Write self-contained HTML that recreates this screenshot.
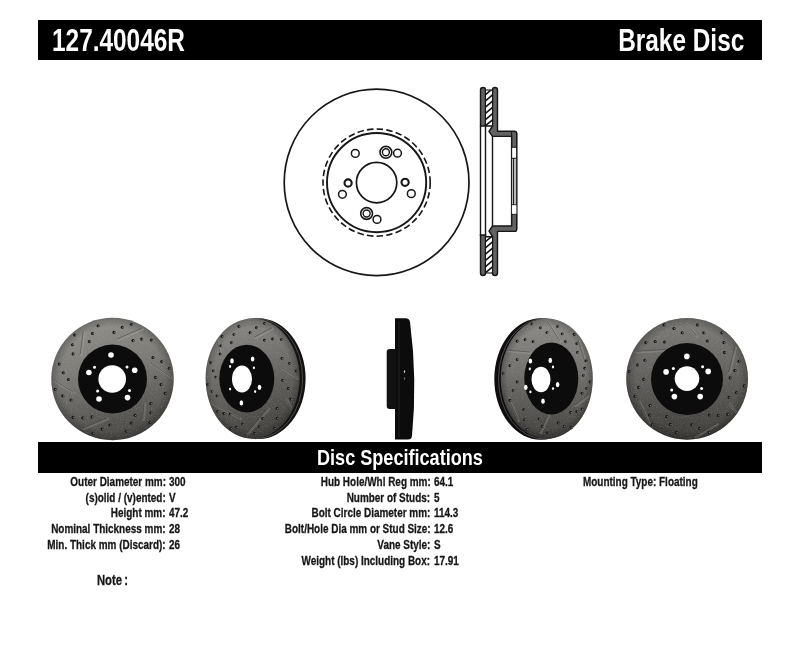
<!DOCTYPE html>
<html><head><meta charset="utf-8">
<style>
html,body{margin:0;padding:0;background:#fff;width:800px;height:655px;overflow:hidden;position:relative;font-family:"Liberation Sans",sans-serif;font-weight:bold;}
.bar{position:absolute;background:#000;}
.t{position:absolute;white-space:nowrap;line-height:1;}
.w{color:#fff;}
.hl{transform-origin:0 0;}
.hr{transform-origin:100% 0;}
.lab{position:absolute;white-space:nowrap;font-size:13px;line-height:13px;color:#161616;transform:scaleX(0.765);-webkit-text-stroke:0.3px #161616;}
.lab.r{transform-origin:100% 0;text-align:right;}
.lab.l{transform-origin:0 0;}
svg{position:absolute;left:0;top:0;}
</style></head><body>
<div class="bar" style="left:38px;top:20px;width:724px;height:40px;"></div>
<div class="t w hl" style="left:51.8px;top:24.8px;font-size:31px;transform:scaleX(0.787);">127.40046R</div>
<div class="t w hr" style="right:55.5px;top:24.8px;font-size:31px;transform:scaleX(0.787);">Brake Disc</div>

<div class="bar" style="left:38px;top:442px;width:724px;height:31px;"></div>
<div class="t w" style="left:317px;top:447px;font-size:22px;transform:scaleX(0.822);transform-origin:0 0;">Disc Specifications</div>

<!-- specs col1 -->
<div class="lab r" style="right:634.5px;top:475px;">Outer Diameter mm:</div>
<div class="lab r" style="right:634.5px;top:491px;">(s)olid / (v)ented:</div>
<div class="lab r" style="right:634.5px;top:506px;">Height mm:</div>
<div class="lab r" style="right:634.5px;top:522px;">Nominal Thickness mm:</div>
<div class="lab r" style="right:634.5px;top:538px;">Min. Thick mm (Discard):</div>
<div class="lab l" style="left:169px;top:475px;">300</div>
<div class="lab l" style="left:169px;top:491px;">V</div>
<div class="lab l" style="left:169px;top:506px;">47.2</div>
<div class="lab l" style="left:169px;top:522px;">28</div>
<div class="lab l" style="left:169px;top:538px;">26</div>
<!-- col2 -->
<div class="lab r" style="right:369.7px;top:475px;">Hub Hole/Whl Reg mm:</div>
<div class="lab r" style="right:369.7px;top:491px;">Number of Studs:</div>
<div class="lab r" style="right:369.7px;top:506px;">Bolt Circle Diameter mm:</div>
<div class="lab r" style="right:369.7px;top:522px;">Bolt/Hole Dia mm or Stud Size:</div>
<div class="lab r" style="right:369.7px;top:538px;">Vane Style:</div>
<div class="lab r" style="right:369.7px;top:554px;">Weight (lbs) Including Box:</div>
<div class="lab l" style="left:434.3px;top:475px;">64.1</div>
<div class="lab l" style="left:434.3px;top:491px;">5</div>
<div class="lab l" style="left:434.3px;top:506px;">114.3</div>
<div class="lab l" style="left:434.3px;top:522px;">12.6</div>
<div class="lab l" style="left:434.3px;top:538px;">S</div>
<div class="lab l" style="left:434.3px;top:554px;">17.91</div>
<!-- col3 -->
<div class="lab l" style="left:582.5px;top:475px;">Mounting Type: Floating</div>
<div class="lab l" style="left:96.5px;top:571.5px;font-size:15px;line-height:15px;transform:scaleX(0.75);">Note<span style="margin-left:3px">:</span></div>

<svg width="800" height="655" viewBox="0 0 800 655">
<defs>
<linearGradient id="g1" x1="0" y1="0" x2="0.25" y2="1">
 <stop offset="0" stop-color="#96958f"/><stop offset="0.5" stop-color="#7b7a76"/><stop offset="1" stop-color="#4e4d49"/></linearGradient>
<linearGradient id="g2" x1="0" y1="0" x2="0.25" y2="1">
 <stop offset="0" stop-color="#8f8e8a"/><stop offset="0.45" stop-color="#73726e"/><stop offset="1" stop-color="#464542"/></linearGradient>
<linearGradient id="g4" x1="0" y1="0" x2="0" y2="1">
 <stop offset="0" stop-color="#8d8c88"/><stop offset="0.45" stop-color="#72716d"/><stop offset="1" stop-color="#42413e"/></linearGradient>
<linearGradient id="g5" x1="0" y1="0" x2="0" y2="1">
 <stop offset="0" stop-color="#7e7d79"/><stop offset="0.45" stop-color="#64635f"/><stop offset="1" stop-color="#3d3c39"/></linearGradient>
<radialGradient id="rim" cx="0.5" cy="0.5" r="0.5">
 <stop offset="0.85" stop-color="#000" stop-opacity="0"/><stop offset="1" stop-color="#000" stop-opacity="0.25"/></radialGradient>
<clipPath id="c1"><circle cx="112.5" cy="379" r="60"/></clipPath>
<clipPath id="c5"><circle cx="687.1" cy="378.8" r="59.8"/></clipPath>
<clipPath id="c2"><ellipse cx="252.6" cy="378.5" rx="46" ry="59"/></clipPath>
<clipPath id="c4"><ellipse cx="546.8" cy="378.5" rx="45" ry="59"/></clipPath>
<filter id="noise" x="0" y="0" width="100%" height="100%"><feTurbulence type="fractalNoise" baseFrequency="0.8" numOctaves="2" seed="3" result="n"/><feColorMatrix in="n" type="matrix" values="0 0 0 0 0.5  0 0 0 0 0.5  0 0 0 0 0.5  1.6 0 0 0 -0.8"/></filter>
</defs>
<circle cx="112.5" cy="379" r="61.2" fill="url(#g1)"/>
<circle cx="112.5" cy="379" r="61.2" fill="url(#rim)"/>
<g clip-path="url(#c1)" opacity="0.35"><rect x="50" y="317" width="125" height="125" filter="url(#noise)"/></g>
<g clip-path="url(#c1)"><line x1="84.2" y1="331.8" x2="81.1" y2="355.3" stroke="#c0c0c0" stroke-width="2.6" opacity="0.22" stroke-linecap="round"/><line x1="83.3" y1="330.9" x2="80.2" y2="354.4" stroke="#2a2a2a" stroke-width="0.9" opacity="0.5"/><line x1="118.1" y1="339.9" x2="142.6" y2="329.2" stroke="#c0c0c0" stroke-width="2.6" opacity="0.22" stroke-linecap="round"/><line x1="117.2" y1="339" x2="141.7" y2="328.3" stroke="#2a2a2a" stroke-width="0.9" opacity="0.5"/><line x1="151.8" y1="364" x2="172.3" y2="378.3" stroke="#c0c0c0" stroke-width="2.6" opacity="0.22" stroke-linecap="round"/><line x1="150.9" y1="363.1" x2="171.4" y2="377.4" stroke="#2a2a2a" stroke-width="0.9" opacity="0.5"/><line x1="55" y1="380.9" x2="74.5" y2="393.2" stroke="#c0c0c0" stroke-width="2.6" opacity="0.22" stroke-linecap="round"/><line x1="54.1" y1="380" x2="73.6" y2="392.3" stroke="#2a2a2a" stroke-width="0.9" opacity="0.5"/><line x1="83.7" y1="429" x2="108.2" y2="418.8" stroke="#c0c0c0" stroke-width="2.6" opacity="0.22" stroke-linecap="round"/><line x1="82.8" y1="428.1" x2="107.3" y2="417.9" stroke="#2a2a2a" stroke-width="0.9" opacity="0.5"/><line x1="144.7" y1="404.5" x2="143.6" y2="419.8" stroke="#c0c0c0" stroke-width="2.6" opacity="0.22" stroke-linecap="round"/><line x1="143.8" y1="403.6" x2="142.7" y2="418.9" stroke="#2a2a2a" stroke-width="0.9" opacity="0.5"/></g>
<circle cx="98.1" cy="325.8" r="1.55" fill="#161616"/><ellipse cx="98.7" cy="325.9" rx="0.7" ry="0.7" fill="#e8e8e8" opacity="0.5"/><circle cx="92.5" cy="333.4" r="1.55" fill="#161616"/><ellipse cx="93.1" cy="333.5" rx="0.7" ry="0.7" fill="#e8e8e8" opacity="0.5"/><circle cx="89.4" cy="341.6" r="1.55" fill="#161616"/><ellipse cx="90" cy="341.7" rx="0.7" ry="0.7" fill="#e8e8e8" opacity="0.5"/><circle cx="74.6" cy="335" r="1.55" fill="#161616"/><ellipse cx="75.2" cy="335.1" rx="0.7" ry="0.7" fill="#e8e8e8" opacity="0.5"/><circle cx="72.5" cy="344.7" r="1.55" fill="#161616"/><ellipse cx="73.1" cy="344.8" rx="0.7" ry="0.7" fill="#e8e8e8" opacity="0.5"/><circle cx="73.1" cy="353.9" r="1.55" fill="#161616"/><ellipse cx="73.7" cy="354" rx="0.7" ry="0.7" fill="#e8e8e8" opacity="0.5"/><circle cx="59.3" cy="364.1" r="1.55" fill="#161616"/><ellipse cx="59.9" cy="364.2" rx="0.7" ry="0.7" fill="#e8e8e8" opacity="0.5"/><circle cx="63.3" cy="372.8" r="1.55" fill="#161616"/><ellipse cx="63.9" cy="372.9" rx="0.7" ry="0.7" fill="#e8e8e8" opacity="0.5"/><circle cx="68.5" cy="379.5" r="1.55" fill="#161616"/><ellipse cx="69.1" cy="379.6" rx="0.7" ry="0.7" fill="#e8e8e8" opacity="0.5"/><circle cx="114" cy="332.4" r="1.55" fill="#161616"/><ellipse cx="114.6" cy="332.5" rx="0.7" ry="0.7" fill="#e8e8e8" opacity="0.5"/><circle cx="131.5" cy="324.2" r="1.55" fill="#161616"/><ellipse cx="132.1" cy="324.3" rx="0.7" ry="0.7" fill="#e8e8e8" opacity="0.5"/><circle cx="122.3" cy="327.3" r="1.55" fill="#161616"/><ellipse cx="122.9" cy="327.4" rx="0.7" ry="0.7" fill="#e8e8e8" opacity="0.5"/><circle cx="133" cy="340.6" r="1.55" fill="#161616"/><ellipse cx="133.6" cy="340.7" rx="0.7" ry="0.7" fill="#e8e8e8" opacity="0.5"/><circle cx="141.7" cy="339.1" r="1.55" fill="#161616"/><ellipse cx="142.3" cy="339.2" rx="0.7" ry="0.7" fill="#e8e8e8" opacity="0.5"/><circle cx="151.4" cy="340.1" r="1.55" fill="#161616"/><ellipse cx="152" cy="340.2" rx="0.7" ry="0.7" fill="#e8e8e8" opacity="0.5"/><circle cx="153" cy="357.5" r="1.55" fill="#161616"/><ellipse cx="153.6" cy="357.6" rx="0.7" ry="0.7" fill="#e8e8e8" opacity="0.5"/><circle cx="161.7" cy="361.6" r="1.55" fill="#161616"/><ellipse cx="162.3" cy="361.7" rx="0.7" ry="0.7" fill="#e8e8e8" opacity="0.5"/><circle cx="169.3" cy="368.2" r="1.55" fill="#161616"/><ellipse cx="169.9" cy="368.3" rx="0.7" ry="0.7" fill="#e8e8e8" opacity="0.5"/><circle cx="155.5" cy="377.4" r="1.55" fill="#161616"/><ellipse cx="156.1" cy="377.5" rx="0.7" ry="0.7" fill="#e8e8e8" opacity="0.5"/><circle cx="55.2" cy="389.3" r="1.55" fill="#161616"/><ellipse cx="55.8" cy="389.4" rx="0.7" ry="0.7" fill="#e8e8e8" opacity="0.5"/><circle cx="62.8" cy="395.9" r="1.55" fill="#161616"/><ellipse cx="63.4" cy="396" rx="0.7" ry="0.7" fill="#e8e8e8" opacity="0.5"/><circle cx="71" cy="400" r="1.55" fill="#161616"/><ellipse cx="71.6" cy="400.1" rx="0.7" ry="0.7" fill="#e8e8e8" opacity="0.5"/><circle cx="73.1" cy="417.4" r="1.55" fill="#161616"/><ellipse cx="73.7" cy="417.5" rx="0.7" ry="0.7" fill="#e8e8e8" opacity="0.5"/><circle cx="82.8" cy="417.9" r="1.55" fill="#161616"/><ellipse cx="83.4" cy="418" rx="0.7" ry="0.7" fill="#e8e8e8" opacity="0.5"/><circle cx="92" cy="416.9" r="1.55" fill="#161616"/><ellipse cx="92.6" cy="417" rx="0.7" ry="0.7" fill="#e8e8e8" opacity="0.5"/><circle cx="93" cy="433.2" r="1.55" fill="#161616"/><ellipse cx="93.6" cy="433.3" rx="0.7" ry="0.7" fill="#e8e8e8" opacity="0.5"/><circle cx="102.2" cy="429.1" r="1.55" fill="#161616"/><ellipse cx="102.8" cy="429.2" rx="0.7" ry="0.7" fill="#e8e8e8" opacity="0.5"/><circle cx="109.9" cy="425" r="1.55" fill="#161616"/><ellipse cx="110.5" cy="425.1" rx="0.7" ry="0.7" fill="#e8e8e8" opacity="0.5"/><circle cx="161.1" cy="384.6" r="1.55" fill="#161616"/><ellipse cx="161.7" cy="384.7" rx="0.7" ry="0.7" fill="#e8e8e8" opacity="0.5"/><circle cx="165.2" cy="393.3" r="1.55" fill="#161616"/><ellipse cx="165.8" cy="393.4" rx="0.7" ry="0.7" fill="#e8e8e8" opacity="0.5"/><circle cx="150.9" cy="403.6" r="1.55" fill="#161616"/><ellipse cx="151.5" cy="403.7" rx="0.7" ry="0.7" fill="#e8e8e8" opacity="0.5"/><circle cx="150.9" cy="412.8" r="1.55" fill="#161616"/><ellipse cx="151.5" cy="412.9" rx="0.7" ry="0.7" fill="#e8e8e8" opacity="0.5"/><circle cx="149.9" cy="422.5" r="1.55" fill="#161616"/><ellipse cx="150.5" cy="422.6" rx="0.7" ry="0.7" fill="#e8e8e8" opacity="0.5"/><circle cx="135.1" cy="415.3" r="1.55" fill="#161616"/><ellipse cx="135.7" cy="415.4" rx="0.7" ry="0.7" fill="#e8e8e8" opacity="0.5"/><circle cx="131.5" cy="423" r="1.55" fill="#161616"/><ellipse cx="132.1" cy="423.1" rx="0.7" ry="0.7" fill="#e8e8e8" opacity="0.5"/><circle cx="126.4" cy="431.2" r="1.55" fill="#161616"/><ellipse cx="127" cy="431.3" rx="0.7" ry="0.7" fill="#e8e8e8" opacity="0.5"/>
<circle cx="112.5" cy="379" r="34.5" fill="#0c0c0c"/>
<circle cx="112.2" cy="379" r="13.8" fill="#fff"/>
<circle cx="111" cy="355" r="2.8" fill="#fff"/><circle cx="134.7" cy="370.2" r="2.8" fill="#fff"/><circle cx="127.5" cy="397.6" r="2.8" fill="#fff"/><circle cx="99" cy="399" r="2.8" fill="#fff"/><circle cx="88.9" cy="372.5" r="2.8" fill="#fff"/>
<circle cx="94.5" cy="367.3" r="1.5" fill="#fff"/><circle cx="127" cy="366.9" r="1.5" fill="#fff"/><circle cx="129.5" cy="390.4" r="1.5" fill="#fff"/><circle cx="97.6" cy="391" r="1.5" fill="#fff"/>
<circle cx="687.1" cy="378.8" r="60.9" fill="url(#g5)"/>
<circle cx="687.1" cy="378.8" r="60.9" fill="url(#rim)"/>
<g clip-path="url(#c5)" opacity="0.35"><rect x="625" y="317" width="125" height="125" filter="url(#noise)"/></g>
<g clip-path="url(#c5)"><line x1="636.6" y1="352.3" x2="666.6" y2="350.3" stroke="#c0c0c0" stroke-width="2.6" opacity="0.22" stroke-linecap="round"/><line x1="635.7" y1="351.4" x2="665.7" y2="349.4" stroke="#2a2a2a" stroke-width="0.9" opacity="0.5"/><line x1="686.9" y1="324.3" x2="697.4" y2="336.7" stroke="#c0c0c0" stroke-width="2.6" opacity="0.22" stroke-linecap="round"/><line x1="686" y1="323.4" x2="696.5" y2="335.8" stroke="#2a2a2a" stroke-width="0.9" opacity="0.5"/><line x1="735.8" y1="348.1" x2="729.6" y2="373.1" stroke="#c0c0c0" stroke-width="2.6" opacity="0.22" stroke-linecap="round"/><line x1="734.9" y1="347.2" x2="728.7" y2="372.2" stroke="#2a2a2a" stroke-width="0.9" opacity="0.5"/><line x1="639.6" y1="401.8" x2="651.6" y2="427.3" stroke="#c0c0c0" stroke-width="2.6" opacity="0.22" stroke-linecap="round"/><line x1="638.7" y1="400.9" x2="650.7" y2="426.4" stroke="#2a2a2a" stroke-width="0.9" opacity="0.5"/><line x1="695.6" y1="437.3" x2="717.6" y2="424.3" stroke="#c0c0c0" stroke-width="2.6" opacity="0.22" stroke-linecap="round"/><line x1="694.7" y1="436.4" x2="716.7" y2="423.4" stroke="#2a2a2a" stroke-width="0.9" opacity="0.5"/><line x1="729.6" y1="404.3" x2="742.6" y2="419.3" stroke="#c0c0c0" stroke-width="2.6" opacity="0.22" stroke-linecap="round"/><line x1="728.7" y1="403.4" x2="741.7" y2="418.4" stroke="#2a2a2a" stroke-width="0.9" opacity="0.5"/></g>
<circle cx="664.1" cy="324.9" r="1.55" fill="#161616"/><ellipse cx="664.7" cy="325" rx="0.7" ry="0.7" fill="#e8e8e8" opacity="0.5"/><circle cx="673.9" cy="328.5" r="1.55" fill="#161616"/><ellipse cx="674.5" cy="328.6" rx="0.7" ry="0.7" fill="#e8e8e8" opacity="0.5"/><circle cx="682.2" cy="332.7" r="1.55" fill="#161616"/><ellipse cx="682.8" cy="332.8" rx="0.7" ry="0.7" fill="#e8e8e8" opacity="0.5"/><circle cx="645.9" cy="342.6" r="1.55" fill="#161616"/><ellipse cx="646.5" cy="342.7" rx="0.7" ry="0.7" fill="#e8e8e8" opacity="0.5"/><circle cx="655.2" cy="341.5" r="1.55" fill="#161616"/><ellipse cx="655.8" cy="341.6" rx="0.7" ry="0.7" fill="#e8e8e8" opacity="0.5"/><circle cx="664.6" cy="342" r="1.55" fill="#161616"/><ellipse cx="665.2" cy="342.1" rx="0.7" ry="0.7" fill="#e8e8e8" opacity="0.5"/><circle cx="644.8" cy="360.2" r="1.55" fill="#161616"/><ellipse cx="645.4" cy="360.3" rx="0.7" ry="0.7" fill="#e8e8e8" opacity="0.5"/><circle cx="637.6" cy="364.9" r="1.55" fill="#161616"/><ellipse cx="638.2" cy="365" rx="0.7" ry="0.7" fill="#e8e8e8" opacity="0.5"/><circle cx="629.3" cy="371.6" r="1.55" fill="#161616"/><ellipse cx="629.9" cy="371.7" rx="0.7" ry="0.7" fill="#e8e8e8" opacity="0.5"/><circle cx="643.8" cy="379.4" r="1.55" fill="#161616"/><ellipse cx="644.4" cy="379.5" rx="0.7" ry="0.7" fill="#e8e8e8" opacity="0.5"/><circle cx="697.5" cy="324.9" r="1.55" fill="#161616"/><ellipse cx="698.1" cy="325" rx="0.7" ry="0.7" fill="#e8e8e8" opacity="0.5"/><circle cx="703.7" cy="332.7" r="1.55" fill="#161616"/><ellipse cx="704.3" cy="332.8" rx="0.7" ry="0.7" fill="#e8e8e8" opacity="0.5"/><circle cx="707.4" cy="341" r="1.55" fill="#161616"/><ellipse cx="708" cy="341.1" rx="0.7" ry="0.7" fill="#e8e8e8" opacity="0.5"/><circle cx="721.9" cy="332.7" r="1.55" fill="#161616"/><ellipse cx="722.5" cy="332.8" rx="0.7" ry="0.7" fill="#e8e8e8" opacity="0.5"/><circle cx="724" cy="342.6" r="1.55" fill="#161616"/><ellipse cx="724.6" cy="342.7" rx="0.7" ry="0.7" fill="#e8e8e8" opacity="0.5"/><circle cx="724.5" cy="352.4" r="1.55" fill="#161616"/><ellipse cx="725.1" cy="352.5" rx="0.7" ry="0.7" fill="#e8e8e8" opacity="0.5"/><circle cx="739" cy="361.2" r="1.55" fill="#161616"/><ellipse cx="739.6" cy="361.3" rx="0.7" ry="0.7" fill="#e8e8e8" opacity="0.5"/><circle cx="734.9" cy="370.6" r="1.55" fill="#161616"/><ellipse cx="735.5" cy="370.7" rx="0.7" ry="0.7" fill="#e8e8e8" opacity="0.5"/><circle cx="730.2" cy="377.9" r="1.55" fill="#161616"/><ellipse cx="730.8" cy="378" rx="0.7" ry="0.7" fill="#e8e8e8" opacity="0.5"/><circle cx="638.6" cy="387.4" r="1.55" fill="#161616"/><ellipse cx="639.2" cy="387.5" rx="0.7" ry="0.7" fill="#e8e8e8" opacity="0.5"/><circle cx="635" cy="396.2" r="1.55" fill="#161616"/><ellipse cx="635.6" cy="396.3" rx="0.7" ry="0.7" fill="#e8e8e8" opacity="0.5"/><circle cx="650" cy="405.6" r="1.55" fill="#161616"/><ellipse cx="650.6" cy="405.7" rx="0.7" ry="0.7" fill="#e8e8e8" opacity="0.5"/><circle cx="649.5" cy="415" r="1.55" fill="#161616"/><ellipse cx="650.1" cy="415.1" rx="0.7" ry="0.7" fill="#e8e8e8" opacity="0.5"/><circle cx="652.1" cy="424.8" r="1.55" fill="#161616"/><ellipse cx="652.7" cy="424.9" rx="0.7" ry="0.7" fill="#e8e8e8" opacity="0.5"/><circle cx="666.7" cy="416.5" r="1.55" fill="#161616"/><ellipse cx="667.3" cy="416.6" rx="0.7" ry="0.7" fill="#e8e8e8" opacity="0.5"/><circle cx="670.3" cy="424.3" r="1.55" fill="#161616"/><ellipse cx="670.9" cy="424.4" rx="0.7" ry="0.7" fill="#e8e8e8" opacity="0.5"/><circle cx="676.5" cy="432.6" r="1.55" fill="#161616"/><ellipse cx="677.1" cy="432.7" rx="0.7" ry="0.7" fill="#e8e8e8" opacity="0.5"/><circle cx="744.2" cy="385.9" r="1.55" fill="#161616"/><ellipse cx="744.8" cy="386" rx="0.7" ry="0.7" fill="#e8e8e8" opacity="0.5"/><circle cx="736.4" cy="392.6" r="1.55" fill="#161616"/><ellipse cx="737" cy="392.7" rx="0.7" ry="0.7" fill="#e8e8e8" opacity="0.5"/><circle cx="729.2" cy="397.3" r="1.55" fill="#161616"/><ellipse cx="729.8" cy="397.4" rx="0.7" ry="0.7" fill="#e8e8e8" opacity="0.5"/><circle cx="709.4" cy="415" r="1.55" fill="#161616"/><ellipse cx="710" cy="415.1" rx="0.7" ry="0.7" fill="#e8e8e8" opacity="0.5"/><circle cx="718.3" cy="415.5" r="1.55" fill="#161616"/><ellipse cx="718.9" cy="415.6" rx="0.7" ry="0.7" fill="#e8e8e8" opacity="0.5"/><circle cx="727.6" cy="414.4" r="1.55" fill="#161616"/><ellipse cx="728.2" cy="414.5" rx="0.7" ry="0.7" fill="#e8e8e8" opacity="0.5"/><circle cx="691.8" cy="424.8" r="1.55" fill="#161616"/><ellipse cx="692.4" cy="424.9" rx="0.7" ry="0.7" fill="#e8e8e8" opacity="0.5"/><circle cx="699.6" cy="428.4" r="1.55" fill="#161616"/><ellipse cx="700.2" cy="428.5" rx="0.7" ry="0.7" fill="#e8e8e8" opacity="0.5"/><circle cx="708.9" cy="432.1" r="1.55" fill="#161616"/><ellipse cx="709.5" cy="432.2" rx="0.7" ry="0.7" fill="#e8e8e8" opacity="0.5"/>
<circle cx="687.0" cy="379.0" r="36" fill="#0c0c0c"/>
<circle cx="687.0" cy="378.59999999999997" r="12.3" fill="#fff"/>
<circle cx="686.8" cy="356.4" r="2.8" fill="#fff"/><circle cx="708.2" cy="371.4" r="2.8" fill="#fff"/><circle cx="700.2" cy="396.6" r="2.8" fill="#fff"/><circle cx="674.4" cy="396.6" r="2.8" fill="#fff"/><circle cx="666.1" cy="371.9" r="2.8" fill="#fff"/>
<circle cx="673.4" cy="368.4" r="1.5" fill="#fff"/><circle cx="702.6" cy="366.7" r="1.5" fill="#fff"/><circle cx="701.6" cy="388.4" r="1.5" fill="#fff"/><circle cx="671.7" cy="390" r="1.5" fill="#fff"/>
<ellipse cx="258.4" cy="378.6" rx="47.2" ry="60.4" fill="#111"/>
<ellipse cx="255.6" cy="378.5" rx="47" ry="60.2" fill="none" stroke="#5a5a5a" stroke-width="0.8"/>
<ellipse cx="252.6" cy="378.5" rx="47" ry="60" fill="url(#g2)"/>
<ellipse cx="252.6" cy="378.5" rx="47" ry="60" fill="url(#rim)"/>
<g clip-path="url(#c2)" opacity="0.35"><rect x="204" y="317" width="95" height="125" filter="url(#noise)"/></g>
<g clip-path="url(#c2)"><line x1="255.4" y1="338" x2="272.9" y2="328.7" stroke="#c0c0c0" stroke-width="2.6" opacity="0.22" stroke-linecap="round"/><line x1="254.5" y1="337.1" x2="272" y2="327.8" stroke="#2a2a2a" stroke-width="0.9" opacity="0.5"/><line x1="282.9" y1="368.7" x2="298.9" y2="378.9" stroke="#c0c0c0" stroke-width="2.6" opacity="0.22" stroke-linecap="round"/><line x1="282" y1="367.8" x2="298" y2="378" stroke="#2a2a2a" stroke-width="0.9" opacity="0.5"/><line x1="214.9" y1="330.9" x2="220.9" y2="352.9" stroke="#c0c0c0" stroke-width="2.6" opacity="0.22" stroke-linecap="round"/><line x1="214" y1="330" x2="220" y2="352" stroke="#2a2a2a" stroke-width="0.9" opacity="0.5"/><line x1="210.9" y1="402.9" x2="240.9" y2="418.9" stroke="#c0c0c0" stroke-width="2.6" opacity="0.22" stroke-linecap="round"/><line x1="210" y1="402" x2="240" y2="418" stroke="#2a2a2a" stroke-width="0.9" opacity="0.5"/><line x1="247.9" y1="433.9" x2="268.9" y2="408.9" stroke="#c0c0c0" stroke-width="2.6" opacity="0.22" stroke-linecap="round"/><line x1="247" y1="433" x2="268" y2="408" stroke="#2a2a2a" stroke-width="0.9" opacity="0.5"/><line x1="285.9" y1="398.9" x2="298.9" y2="420.9" stroke="#c0c0c0" stroke-width="2.6" opacity="0.22" stroke-linecap="round"/><line x1="285" y1="398" x2="298" y2="420" stroke="#2a2a2a" stroke-width="0.9" opacity="0.5"/></g>
<circle cx="238.9" cy="326.5" r="1.45" fill="#161616"/><ellipse cx="239.5" cy="326.6" rx="0.7" ry="0.7" fill="#e8e8e8" opacity="0.5"/><circle cx="256.4" cy="327.8" r="1.45" fill="#161616"/><ellipse cx="257" cy="327.9" rx="0.7" ry="0.7" fill="#e8e8e8" opacity="0.5"/><circle cx="264.5" cy="323.4" r="1.45" fill="#161616"/><ellipse cx="265.1" cy="323.5" rx="0.7" ry="0.7" fill="#e8e8e8" opacity="0.5"/><circle cx="250.1" cy="332.8" r="1.45" fill="#161616"/><ellipse cx="250.7" cy="332.9" rx="0.7" ry="0.7" fill="#e8e8e8" opacity="0.5"/><circle cx="233.9" cy="334.6" r="1.45" fill="#161616"/><ellipse cx="234.5" cy="334.7" rx="0.7" ry="0.7" fill="#e8e8e8" opacity="0.5"/><circle cx="222" cy="336.5" r="1.45" fill="#161616"/><ellipse cx="222.6" cy="336.6" rx="0.7" ry="0.7" fill="#e8e8e8" opacity="0.5"/><circle cx="231.4" cy="342.8" r="1.45" fill="#161616"/><ellipse cx="232" cy="342.9" rx="0.7" ry="0.7" fill="#e8e8e8" opacity="0.5"/><circle cx="220.8" cy="345.9" r="1.45" fill="#161616"/><ellipse cx="221.4" cy="346" rx="0.7" ry="0.7" fill="#e8e8e8" opacity="0.5"/><circle cx="220.1" cy="354" r="1.45" fill="#161616"/><ellipse cx="220.7" cy="354.1" rx="0.7" ry="0.7" fill="#e8e8e8" opacity="0.5"/><circle cx="210.8" cy="362.8" r="1.45" fill="#161616"/><ellipse cx="211.4" cy="362.9" rx="0.7" ry="0.7" fill="#e8e8e8" opacity="0.5"/><circle cx="213.3" cy="370.9" r="1.45" fill="#161616"/><ellipse cx="213.9" cy="371" rx="0.7" ry="0.7" fill="#e8e8e8" opacity="0.5"/><circle cx="215.8" cy="377.1" r="1.45" fill="#161616"/><ellipse cx="216.4" cy="377.2" rx="0.7" ry="0.7" fill="#e8e8e8" opacity="0.5"/><circle cx="264.5" cy="340.3" r="1.45" fill="#161616"/><ellipse cx="265.1" cy="340.4" rx="0.7" ry="0.7" fill="#e8e8e8" opacity="0.5"/><circle cx="272.6" cy="339" r="1.45" fill="#161616"/><ellipse cx="273.2" cy="339.1" rx="0.7" ry="0.7" fill="#e8e8e8" opacity="0.5"/><circle cx="281.4" cy="339.6" r="1.45" fill="#161616"/><ellipse cx="282" cy="339.7" rx="0.7" ry="0.7" fill="#e8e8e8" opacity="0.5"/><circle cx="282" cy="358.4" r="1.45" fill="#161616"/><ellipse cx="282.6" cy="358.5" rx="0.7" ry="0.7" fill="#e8e8e8" opacity="0.5"/><circle cx="289.5" cy="363.4" r="1.45" fill="#161616"/><ellipse cx="290.1" cy="363.5" rx="0.7" ry="0.7" fill="#e8e8e8" opacity="0.5"/><circle cx="296.4" cy="370.9" r="1.45" fill="#161616"/><ellipse cx="297" cy="371" rx="0.7" ry="0.7" fill="#e8e8e8" opacity="0.5"/><circle cx="207.6" cy="384.8" r="1.45" fill="#161616"/><ellipse cx="208.2" cy="384.9" rx="0.7" ry="0.7" fill="#e8e8e8" opacity="0.5"/><circle cx="212" cy="391.6" r="1.45" fill="#161616"/><ellipse cx="212.6" cy="391.7" rx="0.7" ry="0.7" fill="#e8e8e8" opacity="0.5"/><circle cx="217" cy="396" r="1.45" fill="#161616"/><ellipse cx="217.6" cy="396.1" rx="0.7" ry="0.7" fill="#e8e8e8" opacity="0.5"/><circle cx="282.6" cy="380.4" r="1.45" fill="#161616"/><ellipse cx="283.2" cy="380.5" rx="0.7" ry="0.7" fill="#e8e8e8" opacity="0.5"/><circle cx="288.3" cy="388.5" r="1.45" fill="#161616"/><ellipse cx="288.9" cy="388.6" rx="0.7" ry="0.7" fill="#e8e8e8" opacity="0.5"/><circle cx="290.8" cy="399.1" r="1.45" fill="#161616"/><ellipse cx="291.4" cy="399.2" rx="0.7" ry="0.7" fill="#e8e8e8" opacity="0.5"/><circle cx="277" cy="408.5" r="1.45" fill="#161616"/><ellipse cx="277.6" cy="408.6" rx="0.7" ry="0.7" fill="#e8e8e8" opacity="0.5"/><circle cx="277" cy="418.5" r="1.45" fill="#161616"/><ellipse cx="277.6" cy="418.6" rx="0.7" ry="0.7" fill="#e8e8e8" opacity="0.5"/><circle cx="274.5" cy="428.5" r="1.45" fill="#161616"/><ellipse cx="275.1" cy="428.6" rx="0.7" ry="0.7" fill="#e8e8e8" opacity="0.5"/><circle cx="262.6" cy="418.5" r="1.45" fill="#161616"/><ellipse cx="263.2" cy="418.6" rx="0.7" ry="0.7" fill="#e8e8e8" opacity="0.5"/><circle cx="259.5" cy="426.6" r="1.45" fill="#161616"/><ellipse cx="260.1" cy="426.7" rx="0.7" ry="0.7" fill="#e8e8e8" opacity="0.5"/><circle cx="254.5" cy="433.5" r="1.45" fill="#161616"/><ellipse cx="255.1" cy="433.6" rx="0.7" ry="0.7" fill="#e8e8e8" opacity="0.5"/><circle cx="217.6" cy="411.6" r="1.45" fill="#161616"/><ellipse cx="218.2" cy="411.7" rx="0.7" ry="0.7" fill="#e8e8e8" opacity="0.5"/><circle cx="223.9" cy="413.5" r="1.45" fill="#161616"/><ellipse cx="224.5" cy="413.6" rx="0.7" ry="0.7" fill="#e8e8e8" opacity="0.5"/><circle cx="230.1" cy="414.1" r="1.45" fill="#161616"/><ellipse cx="230.7" cy="414.2" rx="0.7" ry="0.7" fill="#e8e8e8" opacity="0.5"/><circle cx="230.8" cy="428.5" r="1.45" fill="#161616"/><ellipse cx="231.4" cy="428.6" rx="0.7" ry="0.7" fill="#e8e8e8" opacity="0.5"/><circle cx="236.4" cy="427.3" r="1.45" fill="#161616"/><ellipse cx="237" cy="427.4" rx="0.7" ry="0.7" fill="#e8e8e8" opacity="0.5"/><circle cx="242.6" cy="424.1" r="1.45" fill="#161616"/><ellipse cx="243.2" cy="424.2" rx="0.7" ry="0.7" fill="#e8e8e8" opacity="0.5"/>
<ellipse cx="246.8" cy="378.6" rx="27.5" ry="33.8" fill="#0c0c0c"/>
<ellipse cx="242" cy="379" rx="10" ry="13.5" fill="#fff"/>
<ellipse cx="252.6" cy="359" rx="1.8" ry="2.6" fill="#fff"/><ellipse cx="232" cy="360.9" rx="1.8" ry="2.6" fill="#fff"/><ellipse cx="259.5" cy="387.3" rx="1.8" ry="2.6" fill="#fff"/><ellipse cx="241.4" cy="402.9" rx="1.8" ry="2.6" fill="#fff"/>
<ellipse cx="230.1" cy="366.5" rx="1.1" ry="1.4" fill="#fff"/><ellipse cx="253.9" cy="367.8" rx="1.1" ry="1.4" fill="#fff"/><ellipse cx="255.1" cy="391.6" rx="1.1" ry="1.4" fill="#fff"/><ellipse cx="230.1" cy="389.1" rx="1.1" ry="1.4" fill="#fff"/>
<ellipse cx="540.9" cy="379" rx="46.6" ry="60.8" fill="#0e0e0e"/>
<ellipse cx="544.2" cy="378.8" rx="45.7" ry="60.2" fill="none" stroke="#5a5a5a" stroke-width="0.8"/>
<ellipse cx="546.8" cy="378.5" rx="46" ry="60" fill="url(#g4)"/>
<ellipse cx="546.8" cy="378.5" rx="46" ry="60" fill="url(#rim)"/>
<g clip-path="url(#c4)" opacity="0.35"><rect x="499" y="317" width="96" height="125" filter="url(#noise)"/></g>
<g clip-path="url(#c4)"><line x1="548.6" y1="322.9" x2="560.5" y2="341.4" stroke="#c0c0c0" stroke-width="2.6" opacity="0.22" stroke-linecap="round"/><line x1="547.7" y1="322" x2="559.6" y2="340.5" stroke="#2a2a2a" stroke-width="0.9" opacity="0.5"/><line x1="505.9" y1="350.9" x2="530.9" y2="352.9" stroke="#c0c0c0" stroke-width="2.6" opacity="0.22" stroke-linecap="round"/><line x1="505" y1="350" x2="530" y2="352" stroke="#2a2a2a" stroke-width="0.9" opacity="0.5"/><line x1="578.9" y1="340.9" x2="585.9" y2="362.9" stroke="#c0c0c0" stroke-width="2.6" opacity="0.22" stroke-linecap="round"/><line x1="578" y1="340" x2="585" y2="362" stroke="#2a2a2a" stroke-width="0.9" opacity="0.5"/><line x1="507.9" y1="395.9" x2="518.9" y2="420.9" stroke="#c0c0c0" stroke-width="2.6" opacity="0.22" stroke-linecap="round"/><line x1="507" y1="395" x2="518" y2="420" stroke="#2a2a2a" stroke-width="0.9" opacity="0.5"/><line x1="540.9" y1="432.9" x2="548.9" y2="415.9" stroke="#c0c0c0" stroke-width="2.6" opacity="0.22" stroke-linecap="round"/><line x1="540" y1="432" x2="548" y2="415" stroke="#2a2a2a" stroke-width="0.9" opacity="0.5"/><line x1="575.9" y1="405.9" x2="592.9" y2="392.9" stroke="#c0c0c0" stroke-width="2.6" opacity="0.22" stroke-linecap="round"/><line x1="575" y1="405" x2="592" y2="392" stroke="#2a2a2a" stroke-width="0.9" opacity="0.5"/></g>
<circle cx="531.8" cy="323.9" r="1.45" fill="#161616"/><ellipse cx="532.4" cy="324" rx="0.7" ry="0.7" fill="#e8e8e8" opacity="0.5"/><circle cx="540.4" cy="327.9" r="1.45" fill="#161616"/><ellipse cx="541" cy="328" rx="0.7" ry="0.7" fill="#e8e8e8" opacity="0.5"/><circle cx="547" cy="332.6" r="1.45" fill="#161616"/><ellipse cx="547.6" cy="332.7" rx="0.7" ry="0.7" fill="#e8e8e8" opacity="0.5"/><circle cx="557.6" cy="326.6" r="1.45" fill="#161616"/><ellipse cx="558.2" cy="326.7" rx="0.7" ry="0.7" fill="#e8e8e8" opacity="0.5"/><circle cx="562.2" cy="333.9" r="1.45" fill="#161616"/><ellipse cx="562.8" cy="334" rx="0.7" ry="0.7" fill="#e8e8e8" opacity="0.5"/><circle cx="565.5" cy="341.8" r="1.45" fill="#161616"/><ellipse cx="566.1" cy="341.9" rx="0.7" ry="0.7" fill="#e8e8e8" opacity="0.5"/><circle cx="574.2" cy="334.5" r="1.45" fill="#161616"/><ellipse cx="574.8" cy="334.6" rx="0.7" ry="0.7" fill="#e8e8e8" opacity="0.5"/><circle cx="576.8" cy="343.8" r="1.45" fill="#161616"/><ellipse cx="577.4" cy="343.9" rx="0.7" ry="0.7" fill="#e8e8e8" opacity="0.5"/><circle cx="577.5" cy="352.4" r="1.45" fill="#161616"/><ellipse cx="578.1" cy="352.5" rx="0.7" ry="0.7" fill="#e8e8e8" opacity="0.5"/><circle cx="586.1" cy="361" r="1.45" fill="#161616"/><ellipse cx="586.7" cy="361.1" rx="0.7" ry="0.7" fill="#e8e8e8" opacity="0.5"/><circle cx="584.8" cy="368.3" r="1.45" fill="#161616"/><ellipse cx="585.4" cy="368.4" rx="0.7" ry="0.7" fill="#e8e8e8" opacity="0.5"/><circle cx="583.4" cy="375.6" r="1.45" fill="#161616"/><ellipse cx="584" cy="375.7" rx="0.7" ry="0.7" fill="#e8e8e8" opacity="0.5"/><circle cx="517.2" cy="341.2" r="1.45" fill="#161616"/><ellipse cx="517.8" cy="341.3" rx="0.7" ry="0.7" fill="#e8e8e8" opacity="0.5"/><circle cx="525.1" cy="339.8" r="1.45" fill="#161616"/><ellipse cx="525.7" cy="339.9" rx="0.7" ry="0.7" fill="#e8e8e8" opacity="0.5"/><circle cx="533.1" cy="341.8" r="1.45" fill="#161616"/><ellipse cx="533.7" cy="341.9" rx="0.7" ry="0.7" fill="#e8e8e8" opacity="0.5"/><circle cx="517.2" cy="359.7" r="1.45" fill="#161616"/><ellipse cx="517.8" cy="359.8" rx="0.7" ry="0.7" fill="#e8e8e8" opacity="0.5"/><circle cx="509.9" cy="365.7" r="1.45" fill="#161616"/><ellipse cx="510.5" cy="365.8" rx="0.7" ry="0.7" fill="#e8e8e8" opacity="0.5"/><circle cx="503.3" cy="373.6" r="1.45" fill="#161616"/><ellipse cx="503.9" cy="373.7" rx="0.7" ry="0.7" fill="#e8e8e8" opacity="0.5"/><circle cx="517.2" cy="382" r="1.45" fill="#161616"/><ellipse cx="517.8" cy="382.1" rx="0.7" ry="0.7" fill="#e8e8e8" opacity="0.5"/><circle cx="513.2" cy="390.6" r="1.45" fill="#161616"/><ellipse cx="513.8" cy="390.7" rx="0.7" ry="0.7" fill="#e8e8e8" opacity="0.5"/><circle cx="509.9" cy="400.5" r="1.45" fill="#161616"/><ellipse cx="510.5" cy="400.6" rx="0.7" ry="0.7" fill="#e8e8e8" opacity="0.5"/><circle cx="523.8" cy="409.8" r="1.45" fill="#161616"/><ellipse cx="524.4" cy="409.9" rx="0.7" ry="0.7" fill="#e8e8e8" opacity="0.5"/><circle cx="524.5" cy="419.7" r="1.45" fill="#161616"/><ellipse cx="525.1" cy="419.8" rx="0.7" ry="0.7" fill="#e8e8e8" opacity="0.5"/><circle cx="527.1" cy="429.7" r="1.45" fill="#161616"/><ellipse cx="527.7" cy="429.8" rx="0.7" ry="0.7" fill="#e8e8e8" opacity="0.5"/><circle cx="539" cy="419.1" r="1.45" fill="#161616"/><ellipse cx="539.6" cy="419.2" rx="0.7" ry="0.7" fill="#e8e8e8" opacity="0.5"/><circle cx="542.4" cy="426.4" r="1.45" fill="#161616"/><ellipse cx="543" cy="426.5" rx="0.7" ry="0.7" fill="#e8e8e8" opacity="0.5"/><circle cx="547.7" cy="433" r="1.45" fill="#161616"/><ellipse cx="548.3" cy="433.1" rx="0.7" ry="0.7" fill="#e8e8e8" opacity="0.5"/><circle cx="558.3" cy="423" r="1.45" fill="#161616"/><ellipse cx="558.9" cy="423.1" rx="0.7" ry="0.7" fill="#e8e8e8" opacity="0.5"/><circle cx="564.2" cy="426.4" r="1.45" fill="#161616"/><ellipse cx="564.8" cy="426.5" rx="0.7" ry="0.7" fill="#e8e8e8" opacity="0.5"/><circle cx="571.5" cy="427.7" r="1.45" fill="#161616"/><ellipse cx="572.1" cy="427.8" rx="0.7" ry="0.7" fill="#e8e8e8" opacity="0.5"/><circle cx="570.8" cy="412.4" r="1.45" fill="#161616"/><ellipse cx="571.4" cy="412.5" rx="0.7" ry="0.7" fill="#e8e8e8" opacity="0.5"/><circle cx="576.8" cy="411.8" r="1.45" fill="#161616"/><ellipse cx="577.4" cy="411.9" rx="0.7" ry="0.7" fill="#e8e8e8" opacity="0.5"/><circle cx="582.1" cy="409.1" r="1.45" fill="#161616"/><ellipse cx="582.7" cy="409.2" rx="0.7" ry="0.7" fill="#e8e8e8" opacity="0.5"/><circle cx="582.1" cy="393.2" r="1.45" fill="#161616"/><ellipse cx="582.7" cy="393.3" rx="0.7" ry="0.7" fill="#e8e8e8" opacity="0.5"/><circle cx="586.7" cy="388.6" r="1.45" fill="#161616"/><ellipse cx="587.3" cy="388.7" rx="0.7" ry="0.7" fill="#e8e8e8" opacity="0.5"/><circle cx="590" cy="382" r="1.45" fill="#161616"/><ellipse cx="590.6" cy="382.1" rx="0.7" ry="0.7" fill="#e8e8e8" opacity="0.5"/>
<ellipse cx="551.3" cy="378.5" rx="27" ry="36" fill="#0c0c0c"/>
<ellipse cx="541" cy="379.5" rx="9.5" ry="12.8" fill="#fff"/>
<ellipse cx="530.4" cy="361" rx="1.8" ry="2.6" fill="#fff"/><ellipse cx="550.3" cy="360.4" rx="1.8" ry="2.6" fill="#fff"/><ellipse cx="525.8" cy="387.3" rx="1.8" ry="2.6" fill="#fff"/><ellipse cx="557.6" cy="384.6" rx="1.8" ry="2.6" fill="#fff"/><ellipse cx="543" cy="401.2" rx="1.8" ry="2.6" fill="#fff"/>
<ellipse cx="529.8" cy="369" rx="1.1" ry="1.4" fill="#fff"/><ellipse cx="553" cy="367" rx="1.1" ry="1.4" fill="#fff"/><ellipse cx="530.4" cy="391.9" rx="1.1" ry="1.4" fill="#fff"/><ellipse cx="553" cy="388.6" rx="1.1" ry="1.4" fill="#fff"/>
<path d="M395,318.2 L405.5,318.2 Q409.5,318.2 410,322 Q417.5,379 412,436 Q411.5,439.5 408,439.5 L395,439.5 Z" fill="#0c0c0c"/>
<path d="M386.7,352 Q386.7,348.9 389.8,348.9 L396,348.9 L396,409 L389.8,409 Q386.7,409 386.7,406 Z" fill="#111"/>
<path d="M399,321 L399,437" stroke="#2a2a2a" stroke-width="1" opacity="0.7"/>
<ellipse cx="404.5" cy="371.5" rx="0.7" ry="1.5" fill="#bbb"/>
<ellipse cx="404.5" cy="378.5" rx="0.6" ry="1.3" fill="#777"/>
<g fill="none" stroke="#161616" stroke-width="1.7">
<ellipse cx="376.6" cy="182.4" rx="92.4" ry="93.2"/>
<circle cx="376.6" cy="182.6" r="53.6" stroke-dasharray="6.5 3.2" stroke-width="1.6"/>
<circle cx="376.6" cy="182.6" r="49.6" stroke-width="1.9"/>
<circle cx="376.6" cy="182.6" r="20.2"/>
<circle cx="342.4" cy="194.3" r="3.9" stroke-width="1.5"/>
<circle cx="411.3" cy="193.65" r="3.9" stroke-width="1.5"/>
<circle cx="355.3" cy="153.4" r="3.9" stroke-width="1.5"/>
<circle cx="397.5" cy="153.2" r="3.9" stroke-width="1.5"/>
<circle cx="377" cy="219.4" r="3.9" stroke-width="1.5"/>
<circle cx="348.1" cy="183" r="3.6" stroke-width="2.1"/>
<circle cx="405.1" cy="182.3" r="3.6" stroke-width="2.1"/>
<circle cx="385.9" cy="152.3" r="5.9" stroke-width="1.6"/>
<circle cx="385.9" cy="152.3" r="3.5" stroke-width="1.4"/>
<circle cx="366.6" cy="213.5" r="5.9" stroke-width="1.6"/>
<circle cx="366.6" cy="213.5" r="3.5" stroke-width="1.4"/>
</g>
<path d="M480.5,126 L480.5,90 Q480.5,87.5 483,87.5 Q485.5,87.5 485.5,90 L485.5,126 Z" fill="#626262" stroke="#161616" stroke-width="1.4"/><path d="M480.5,235 L480.5,273 Q480.5,275.5 483,275.5 Q485.5,275.5 485.5,273 L485.5,235 Z" fill="#626262" stroke="#161616" stroke-width="1.4"/><path d="M480.5,126 L480.5,236 M485.5,126 L485.5,236 M492.5,136 L492.5,226" stroke="#161616" stroke-width="1.4" fill="none"/><path d="M492.5,90 Q492.5,87.5 495,87.5 Q497.5,87.5 497.5,90 L497.5,131.2 L514.5,131.2 Q516.7,131.2 516.7,133.4 L516.7,229.2 Q516.7,231.4 514.5,231.4 L497.5,231.4 L497.5,273 Q497.5,275.5 495,275.5 Q492.5,275.5 492.5,273 L492.5,236.5 L489,231 L492.5,226 L511.6,226 L511.6,136.4 L492.5,136.4 L489,131.5 L492.5,126 Z" fill="#626262" stroke="#161616" stroke-width="1.4"/><rect x="485.5" y="90" width="7" height="36" fill="#fff" stroke="#161616" stroke-width="1.1"/><clipPath id="hc90"><rect x="485.5" y="90" width="7" height="36"/></clipPath><path d="M485.2,95.0 L492.8,88.5 M485.2,101.2 L492.8,94.7 M485.2,107.4 L492.8,100.9 M485.2,113.6 L492.8,107.1 M485.2,119.8 L492.8,113.3 M485.2,126.0 L492.8,119.5 M485.2,132.2 L492.8,125.7 " stroke="#161616" stroke-width="1.6" clip-path="url(#hc90)"/><rect x="485.5" y="237" width="7" height="36" fill="#fff" stroke="#161616" stroke-width="1.1"/><clipPath id="hc237"><rect x="485.5" y="237" width="7" height="36"/></clipPath><path d="M485.2,242.0 L492.8,235.5 M485.2,248.2 L492.8,241.7 M485.2,254.4 L492.8,247.9 M485.2,260.6 L492.8,254.1 M485.2,266.8 L492.8,260.3 M485.2,273.0 L492.8,266.5 M485.2,279.2 L492.8,272.7 " stroke="#161616" stroke-width="1.6" clip-path="url(#hc237)"/><path d="M485.5,126 L492.5,126 M485.5,236.5 L492.5,236.5" stroke="#161616" stroke-width="1.1"/><rect x="511.6" y="147.3" width="5.1" height="58" fill="#fff"/><rect x="513.6" y="158" width="2.6" height="46" fill="#b8b8b8"/><path d="M511.6,147.3 L516.7,147.3 M511.6,158.3 L516.7,158.3 M511.6,204.9 L516.7,204.9 M511.6,214 L516.7,214 M513.4,158.3 L513.4,204.9 M511.6,131 L511.6,226 M516.7,133 L516.7,229" stroke="#161616" stroke-width="1.1" fill="none"/><rect x="511.9" y="205.2" width="4.5" height="8.6" fill="#fff"/>
</svg>
</body></html>
